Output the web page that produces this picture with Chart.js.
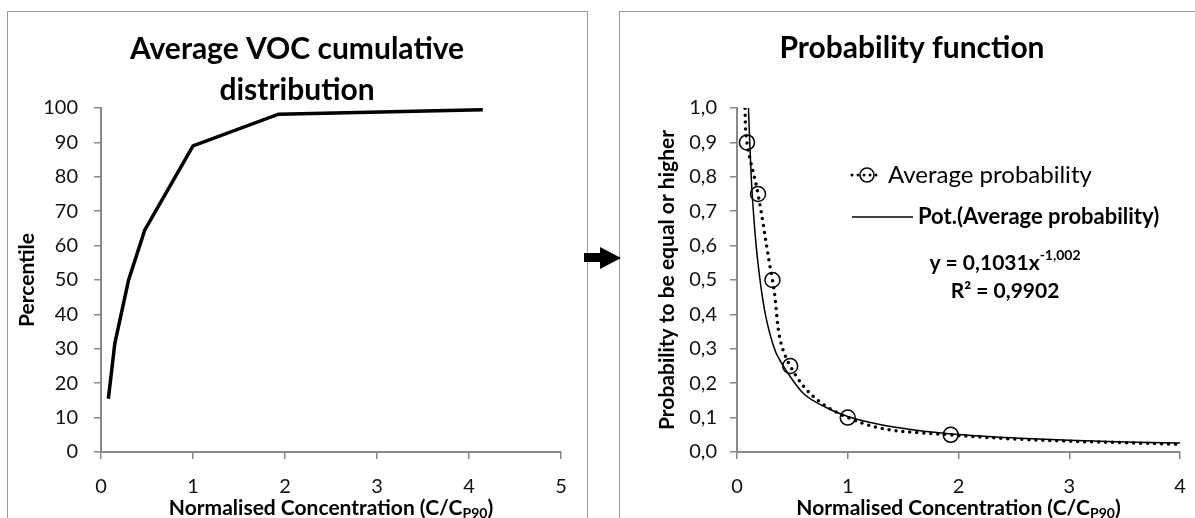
<!DOCTYPE html>
<html>
<head>
<meta charset="utf-8">
<script src="https://cdn.jsdelivr.net/npm/chart.js@4.4.1/dist/chart.umd.min.js"></script>
<style>
  body { margin: 0; background: #fff; width: 1195px; height: 518px; overflow: hidden; position: relative; }
  .box { position: absolute; top: 11px; border: 1px solid #9a9a9a; background: #fff; }
  #leftBox { left: 7px; width: 579px; height: 520px; }
  #rightBox { left: 619px; width: 600px; height: 520px; }
  .box canvas { position: absolute; left: 0; top: 0; }
  #shaft { position: absolute; left: 584px; top: 253px; width: 17px; height: 9px; background: #000; z-index: 5; }
  #head { position: absolute; left: 600px; top: 247px; width: 0; height: 0; z-index: 5;
          border-left: 21px solid #000; border-top: 11px solid transparent; border-bottom: 11px solid transparent; }
</style>
</head>
<body>
<div class="box" id="leftBox"><canvas id="cumChart" width="579" height="506"></canvas></div>
<div class="box" id="rightBox"><canvas id="probChart" width="590" height="506"></canvas></div>
<div id="shaft"></div><div id="head"></div>

<script>
// ---- data ----
const cumTitle = ['Average VOC cumulative', 'distribution'];
const cumYTitle = 'Percentile';
const cumX = [0.08, 0.15, 0.30, 0.475, 1.0, 1.93, 4.15];
const cumY = [15.5, 31.5, 50, 64.5, 89, 98.2, 99.5];

const probTitle = ['Probability function'];
const probYTitle = 'Probability to be equal or higher';
// first and last points carry no marker in the original (line runs off the plot)
const probX = [0.07, 0.09, 0.19, 0.32, 0.48, 1.0, 1.93, 4.15];
const probY = [1.02, 0.9, 0.75, 0.5, 0.25, 0.1, 0.05, 0.02];
const probMarked = [false, true, true, true, true, true, true, false];

// power trend line
const fitX = [0.1, 0.115, 0.13, 0.15, 0.17, 0.2, 0.25, 0.3, 0.35, 0.4, 0.5, 0.6, 0.8, 1.0, 1.3, 1.6, 2.0, 2.5, 3.0, 3.5, 4.0];
const fitY = [1.03, 0.9, 0.79, 0.69, 0.61, 0.52, 0.41, 0.34, 0.29, 0.26, 0.21, 0.17, 0.13, 0.103, 0.079, 0.064, 0.051, 0.041, 0.034, 0.029, 0.026];

const xTitleParts = ['Normalised Concentration (C/C', 'P90', ')'];
const legendLabels = ['Average probability', 'Pot.(Average probability)'];
const eqMain = 'y = 0,1031x';
const eqExp = '-1,002';
const r2Text = 'R² = 0,9902';

const FONT = 'Lato, "Open Sans", sans-serif';
const AXIS = '#898989';

// draws titles, axis titles (with subscript) and the right-hand legend
const decor = {
  id: 'decor',
  afterDraw(chart, args, o) {
    const ctx = chart.ctx, a = chart.chartArea;
    ctx.save();
    ctx.fillStyle = '#000';
    ctx.textAlign = 'center';
    ctx.textBaseline = 'alphabetic';
    ctx.font = 'bold 30px ' + FONT;
    o.title.forEach((t, i) => ctx.fillText(t, o.titleX, o.titleY + i * 41));

    // y title
    ctx.save();
    ctx.translate(o.yTitleX, (a.top + a.bottom) / 2);
    ctx.rotate(-Math.PI / 2);
    ctx.font = 'bold 21px ' + FONT;
    ctx.textBaseline = 'middle';
    ctx.fillText(o.yTitle, 0, 0);
    ctx.restore();

    // x title with subscript P90
    const big = 'bold 21px ' + FONT, small = 'bold 14px ' + FONT;
    ctx.font = big; const w0 = ctx.measureText(xTitleParts[0]).width, w2 = ctx.measureText(xTitleParts[2]).width;
    ctx.font = small; const w1 = ctx.measureText(xTitleParts[1]).width;
    let x = (a.left + a.right) / 2 - (w0 + w1 + w2) / 2;
    const by = o.xTitleY;
    ctx.textAlign = 'left';
    ctx.font = big; ctx.fillText(xTitleParts[0], x, by); x += w0;
    ctx.font = small; ctx.fillText(xTitleParts[1], x, by + 3); x += w1;
    ctx.font = big; ctx.fillText(xTitleParts[2], x, by);

    if (o.legend) {
      const L = o.legend;
      ctx.strokeStyle = '#000';
      // dotted entry
      ctx.lineWidth = 3; ctx.lineCap = 'round'; ctx.setLineDash([0, 6]);
      ctx.beginPath(); ctx.moveTo(L.x, L.y1); ctx.lineTo(L.x + 30, L.y1); ctx.stroke();
      ctx.setLineDash([]); ctx.lineWidth = 1.5;
      ctx.beginPath(); ctx.arc(L.x + 15, L.y1, 7, 0, Math.PI * 2); ctx.stroke();
      ctx.textBaseline = 'middle';
      ctx.font = '24px ' + FONT;
      ctx.fillText(legendLabels[0], L.x + 36, L.y1);
      // solid entry
      ctx.lineCap = 'butt'; ctx.lineWidth = 1.5;
      ctx.beginPath(); ctx.moveTo(L.x, L.y2); ctx.lineTo(L.x + 61, L.y2); ctx.stroke();
      ctx.font = 'bold 22px ' + FONT;
      ctx.fillText(legendLabels[1], L.x + 66, L.y2);
      // equation
      ctx.textBaseline = 'alphabetic';
      ctx.font = 'bold 21px ' + FONT; const we = ctx.measureText(eqMain).width;
      ctx.font = 'bold 14px ' + FONT; const wx = ctx.measureText(eqExp).width;
      let ex = L.eqX - (we + wx) / 2;
      ctx.font = 'bold 21px ' + FONT; ctx.fillText(eqMain, ex, L.eqY);
      ctx.font = 'bold 14px ' + FONT; ctx.fillText(eqExp, ex + we, L.eqY - 10);
      ctx.font = 'bold 21px ' + FONT; ctx.textAlign = 'center';
      ctx.fillText(r2Text, L.eqX, L.eqY + 28);
    }
    ctx.restore();
  }
};

function axisOpts(min, max, step, fmt, tickPad) {
  return {
    type: 'linear', min, max,
    border: { color: AXIS, width: 2 },
    grid: { drawOnChartArea: false, drawTicks: true, tickLength: 7, color: AXIS, lineWidth: 1.5 },
    ticks: { stepSize: step, color: '#111', padding: tickPad, font: { family: FONT, size: 20 }, callback: fmt }
  };
}

// left chart: cumulative distribution
new Chart(document.getElementById('cumChart').getContext('2d'), {
  type: 'scatter',
  data: {
    datasets: [{
      data: cumX.map((x, i) => ({ x, y: cumY[i] })),
      showLine: true, borderColor: '#000', borderWidth: 3.5, pointRadius: 0,
      borderJoinStyle: 'miter', tension: 0
    }]
  },
  options: {
    responsive: false, animation: false, devicePixelRatio: 1,
    layout: { padding: { left: 0, top: 96, right: 26, bottom: 0 } },
    plugins: {
      legend: { display: false }, tooltip: { enabled: false },
      decor: { title: cumTitle, titleX: 289, titleY: 47, yTitle: cumYTitle, yTitleX: 19, xTitleY: 503 }
    },
    scales: {
      x: Object.assign(axisOpts(0, 5, 1, v => v, 16), { afterFit: s => { s.height = 66; } }),
      y: Object.assign(axisOpts(0, 100, 10, v => v, 16), { afterFit: s => { s.width = 93; } })
    }
  },
  plugins: [decor]
});

// right chart: probability function
new Chart(document.getElementById('probChart').getContext('2d'), {
  type: 'scatter',
  data: {
    datasets: [
      {
        label: legendLabels[0],
        data: probX.map((x, i) => ({ x, y: probY[i] })),
        showLine: true, borderColor: '#000', borderWidth: 3.5, borderDash: [0, 7], borderCapStyle: 'round',
        tension: 0.4,
        pointRadius: probMarked.map(m => m ? 7.5 : 0),
        pointBorderColor: '#000', pointBackgroundColor: 'rgba(0,0,0,0)', pointBorderWidth: 1.5
      },
      {
        label: legendLabels[1],
        data: fitX.map((x, i) => ({ x, y: fitY[i] })),
        showLine: true, borderColor: '#000', borderWidth: 1.5, pointRadius: 0,
        cubicInterpolationMode: 'monotone'
      }
    ]
  },
  options: {
    responsive: false, animation: false, devicePixelRatio: 1,
    layout: { padding: { left: 0, top: 96, right: 30, bottom: 0 } },
    plugins: {
      legend: { display: false }, tooltip: { enabled: false },
      decor: {
        title: probTitle, titleX: 292, titleY: 46, yTitle: probYTitle, yTitleX: 47, xTitleY: 503,
        legend: { x: 232, y1: 163, y2: 205, eqX: 385, eqY: 258 }
      }
    },
    scales: {
      x: Object.assign(axisOpts(0, 4, 1, v => v, 16), { afterFit: s => { s.height = 66; } }),
      y: Object.assign(axisOpts(0, 1, 0.1, v => v.toFixed(1).replace('.', ','), 13), { afterFit: s => { s.width = 117; } })
    }
  },
  plugins: [decor]
});
</script>
</body>
</html>
